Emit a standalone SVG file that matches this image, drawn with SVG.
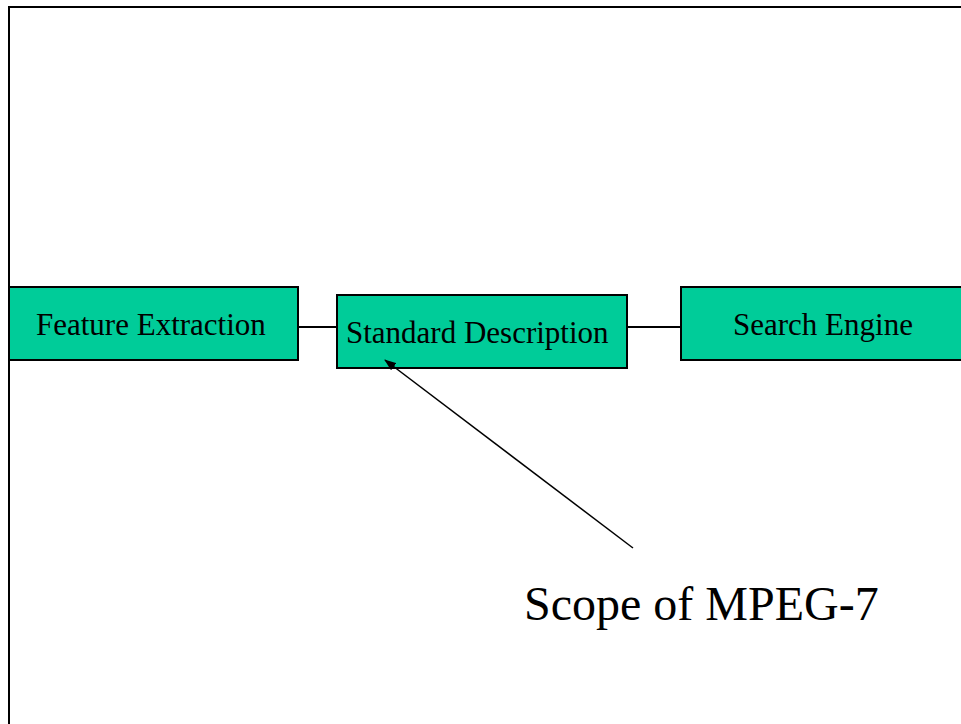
<svg xmlns="http://www.w3.org/2000/svg" width="961" height="724" viewBox="0 0 961 724">
<style>
.box{fill:#00CC99;stroke:#000;stroke-width:2}
.lbl{font-family:"Liberation Serif",serif;font-size:31px;fill:#000}
.big{font-family:"Liberation Serif",serif;font-size:48px;fill:#000}
.ln{stroke:#000;stroke-width:2;fill:none}
</style>
<defs>
<marker id="ah" markerWidth="12" markerHeight="9" refX="11" refY="4.5" orient="auto" markerUnits="userSpaceOnUse" viewBox="0 0 12 9">
<path d="M0,0 L12,4.5 L0,9 z" fill="#000"/>
</marker>
</defs>
<rect x="0" y="0" width="961" height="724" fill="#fff"/>
<path class="ln" d="M9,724 V7 H961"/>
<g id="feature-extraction">
<rect class="box" x="9" y="287" width="289" height="73"/>
<text class="lbl" x="36" y="335">Feature Extraction</text>
</g>
<g id="standard-description">
<rect class="box" x="337" y="295" width="290" height="73"/>
<text class="lbl" x="346" y="343">Standard Description</text>
</g>
<g id="search-engine">
<rect class="box" x="681" y="287" width="290" height="73"/>
<text class="lbl" x="733" y="335">Search Engine</text>
</g>
<g id="connectors">
<line class="ln" x1="298" y1="327" x2="337" y2="327"/>
<line class="ln" x1="627" y1="327" x2="681" y2="327"/>
<line x1="633" y1="548" x2="385" y2="360" stroke="#000" stroke-width="1.5" marker-end="url(#ah)"/>
</g>
<g id="scope-label">
<text class="big" x="524" y="620">Scope of MPEG-7</text>
</g>
</svg>
